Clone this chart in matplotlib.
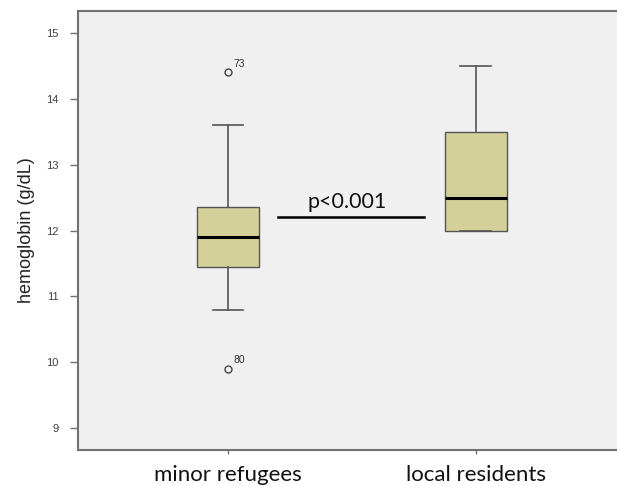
import matplotlib.pyplot as plt

groups = ['minor refugees', 'local residents']
q1 = [11.45, 12.0]
med = [11.9, 12.5]
q3 = [12.36, 13.5]
whislo = [10.8, 12.0]
whishi = [13.6, 14.5]
fliers = [[14.4, 9.9], []]
flier_ids = [['73', '80'], []]

p_text = 'p<0.001'
p_level = 12.2

stats = []
for i in range(len(groups)):
    stats.append({'label': groups[i], 'q1': q1[i], 'med': med[i], 'q3': q3[i],
                  'whislo': whislo[i], 'whishi': whishi[i], 'fliers': fliers[i]})

fig = plt.figure(figsize=(6.17, 4.86), dpi=100)
ax = fig.add_axes([78 / 617, 36 / 486, 1 - 78 / 617, 439 / 486])
ax.set_facecolor('#f0f0f0')

ax.bxp(stats, positions=[1, 2], widths=0.25, patch_artist=True,
       boxprops=dict(facecolor='#d4d09a', edgecolor='#555555', linewidth=1),
       medianprops=dict(color='black', linewidth=2.2),
       whiskerprops=dict(color='#555555', linewidth=1.2),
       capprops=dict(color='#555555', linewidth=1.2),
       capwidths=0.125,
       flierprops=dict(marker='o', markersize=5, markerfacecolor='none',
                       markeredgecolor='#444444', markeredgewidth=1))

for i in range(len(groups)):
    for v, lab in zip(fliers[i], flier_ids[i]):
        ax.annotate(lab, (i + 1, v), xytext=(4, 4), textcoords='offset points',
                    fontsize=7.5, color='#333333', family='Liberation Sans')

ax.plot([1.2, 1.79], [p_level, p_level], color='black', linewidth=1.8)
ax.text(1.48, p_level + 0.08, p_text, ha='center', va='bottom', fontsize=15.5,
        family='Lato', color='#111111')

ax.set_xlim(0.395, 2.569)
ax.set_ylim(8.666, 15.334)
ax.set_yticks(range(9, 16))
ax.set_xticks([1, 2])
ax.set_xticklabels(groups, fontsize=16, family='Lato', color='#111111')
ax.tick_params(axis='y', labelsize=8, labelcolor='#404040', color='#707070',
               length=6, width=1, pad=8)
ax.tick_params(axis='x', color='#707070', length=3, width=1, pad=8)
for lab in ax.get_yticklabels():
    lab.set_family('Liberation Sans')
ax.set_ylabel('hemoglobin (g/dL)', fontsize=13, family='Liberation Sans',
              color='#222222', labelpad=8)

for s in ['left', 'bottom', 'top']:
    ax.spines[s].set_color('#707070')
    ax.spines[s].set_linewidth(1.5)
ax.spines['right'].set_visible(False)

fig.savefig('out.png', dpi=100)
